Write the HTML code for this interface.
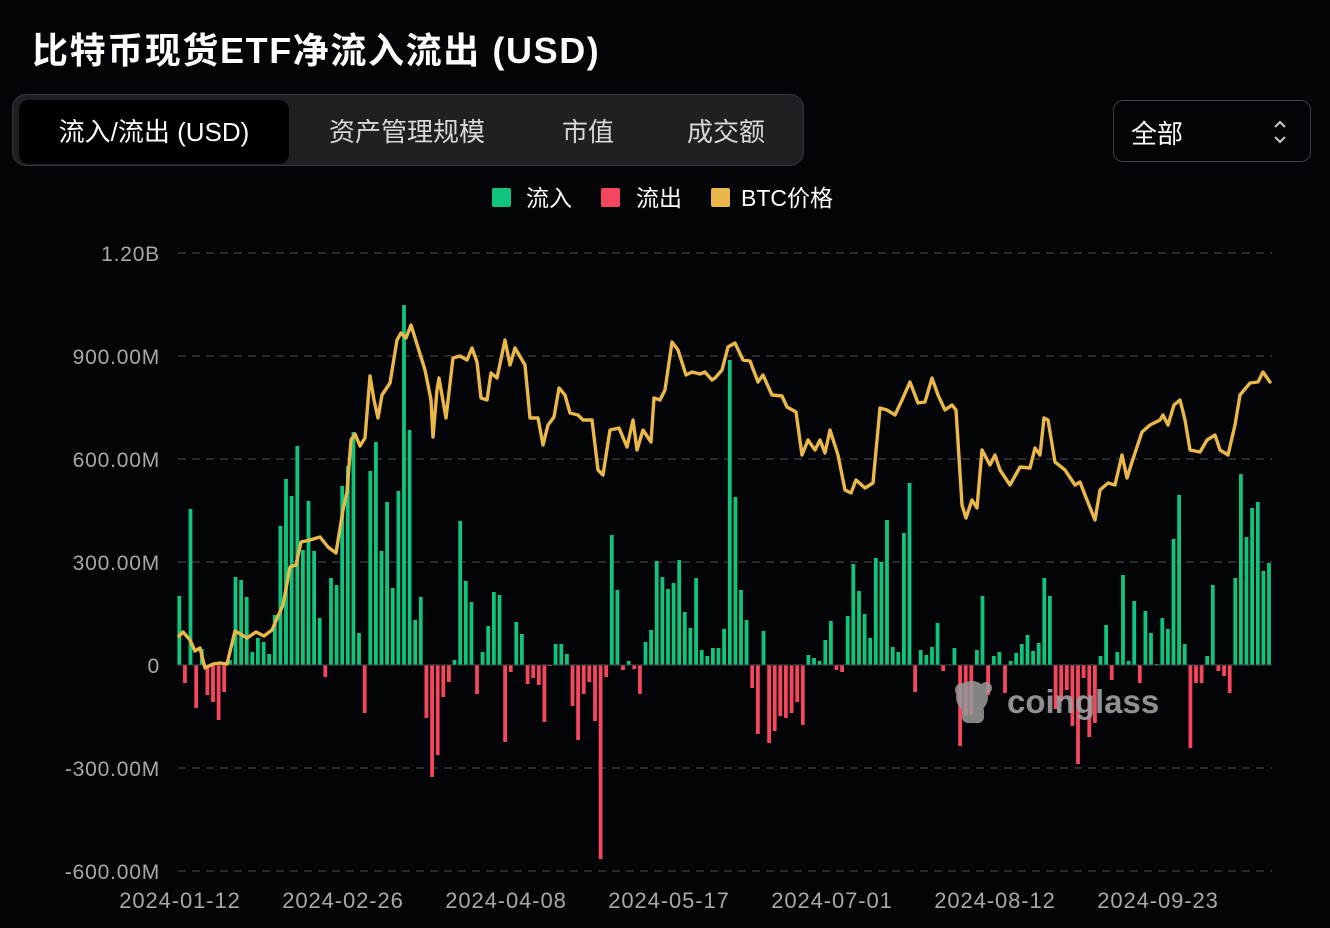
<!DOCTYPE html>
<html><head><meta charset="utf-8"><style>
body{margin:0;width:1330px;height:928px;background:#030408;overflow:hidden;font-family:"Liberation Sans","Noto Sans CJK SC",sans-serif;color:#fff;position:relative}
.title{position:absolute;left:32px;top:22px;font-size:36px;font-weight:bold;letter-spacing:1.6px}
.tabs{position:absolute;left:12px;top:94px;width:792px;height:72px;background:#1f2024;border:1px solid #34363b;border-radius:14px;box-sizing:border-box}
.tab{position:absolute;top:5px;height:64px;line-height:64px;font-size:26px;color:#d8d8d8;text-align:center}
.act{background:#000;border-radius:10px;color:#fff}
.dd{position:absolute;left:1113px;top:100px;width:198px;height:62px;border:1px solid #3e4045;border-radius:10px;box-sizing:border-box}
.leg{position:absolute;top:179px;font-size:23px}
.sq{position:absolute;top:188px;width:19px;height:19px;border-radius:2px}
</style></head><body>
<div class="title">比特币现货ETF净流入流出 (USD)</div>
<div class="tabs">
<div class="tab act" style="left:6px;width:270px">流入/流出 (USD)</div>
<div class="tab" style="left:294px;width:200px">资产管理规模</div>
<div class="tab" style="left:530px;width:90px">市值</div>
<div class="tab" style="left:650px;width:126px">成交额</div>
</div>
<div class="dd"><span style="position:absolute;left:17px;top:13px;font-size:26px">全部</span>
<svg style="position:absolute;left:158px;top:17px" width="16" height="28"><path d="M3 9 L8 4 L13 9 M3 19 L8 24 L13 19" stroke="#ccc" stroke-width="2" fill="none"/></svg></div>
<div class="sq" style="left:492px;background:#10c47e"></div><div class="leg" style="left:526px">流入</div>
<div class="sq" style="left:601px;background:#f6465d"></div><div class="leg" style="left:636px">流出</div>
<div class="sq" style="left:711px;background:#eab84a"></div><div class="leg" style="left:741px">BTC价格</div>
<svg id="c" style="position:absolute;left:0;top:0" width="1330" height="928"></svg>
<script>
var s=document.getElementById('c'),h='';
var ys=[[253,'1.20B'],[356,'900.00M'],[459,'600.00M'],[562,'300.00M'],[665,'0'],[768,'-300.00M'],[871,'-600.00M']];
ys.forEach(function(a){h+='<line x1="178" x2="1272" y1="'+a[0]+'" y2="'+a[0]+'" stroke="#34363a" stroke-width="1.5" stroke-dasharray="8,6"/>';
h+='<text x="160" y="'+(a[0]+8)+'" text-anchor="end" font-size="21" letter-spacing="0.8" fill="#a8a8a8" font-family="Liberation Sans">'+a[1]+'</text>';});
['2024-01-12','2024-02-26','2024-04-08','2024-05-17','2024-07-01','2024-08-12','2024-09-23'].forEach(function(t,i){
h+='<text x="'+(180+i*163)+'" y="908" text-anchor="middle" font-size="22" letter-spacing="0.9" fill="#a8a8a8" font-family="Liberation Sans">'+t+'</text>';});
var v=[69,-18,156,-43,16,-30,-37,-55,-27,5,88,85,68,13,27,23,11,50,139,186,169,219,115,164,114,47,-12,87,80,179,199,233,32,-48,194,223,114,163,77,174,360,235,45,68,-53,-112,-90,-32,-17,
5,144,84,63,-29,13,39,73,70,-77,-7,43,31,-19,-13,-20,-57,-1,21,21,11,-41,-75,-29,-17,-56,-194,-12,130,75,-5,4,-4,-29,23,35,104,88,76,82,105,53,37,87,15,9,17,17,
36,305,168,75,45,-23,-69,34,-78,-66,-51,-53,-48,-37,-60,10,7,4,25,44,-5,-7,49,101,74,51,27,107,103,145,18,13,132,182,-27,15,10,18,42,-6,0,17,-81,-50,-50,15,69,-30,
9,13,-28,4,12,21,30,14,22,87,69,-44,-36,-25,-61,-99,-13,-72,-58,9,40,-15,13,90,4,64,-18,54,32,1,47,36,126,170,21,-83,-18,-18,9,80,-6,-11,-28,87,191,128,157,163,94,102];
v.forEach(function(d,i){var x=179.3+i*5.617-1.9;if(d>=0)h+='<rect x="'+x.toFixed(1)+'" y="'+(665-d)+'" width="3.8" height="'+d+'" fill="#10c47e"/>';
else h+='<rect x="'+x.toFixed(1)+'" y="665" width="3.8" height="'+(-d)+'" fill="#f6465d"/>';});
h+='<line x1="178" x2="1272" y1="665" y2="665" stroke="#3a3c40" stroke-width="1"/>';
h+='<g fill="#9a9a9a" opacity="0.85"><circle cx="972" cy="697" r="16"/><circle cx="962" cy="690" r="7"/><circle cx="986" cy="688" r="6"/><rect x="962" y="705" width="22" height="18" rx="6"/></g>';
h+='<text x="1007" y="713" font-size="33" font-weight="bold" fill="#a0a0a0" opacity="0.9" font-family="Liberation Sans">coinglass</text>';
var p="179,636 183,632 190,640 195,651 200,648 205,668 213,664 220,663 227,664 235,631 247,638 256,632 264,636 272,630 278,616 283,605 290,567 296,565 301,542 310,540 320,537 328,547 336,553 343,510 347,492 351,440 355,434 360,446 365,438 370,376 374,400 378,418 382,395 390,383 397,340 401,333 406,338 411,325 425,370 431,400 433,437 437,390 439,378 446,418 453,358 460,356 467,360 472,348 477,362 481,398 487,400 491,373 497,378 505,340 510,365 515,348 525,365 530,418 538,418 543,445 548,425 554,417 559,388 565,395 570,413 578,415 583,420 592,420 598,470 603,475 610,430 619,428 627,447 633,420 637,450 643,430 651,442 654,398 660,400 665,390 672,342 678,350 686,375 692,372 700,374 705,372 712,380 715,378 722,370 728,347 735,343 743,360 750,361 758,382 763,375 772,395 782,396 787,407 796,412 802,455 808,440 815,450 820,440 825,453 830,430 838,455 845,490 851,493 856,480 865,488 873,483 880,408 887,410 895,415 902,400 910,382 918,403 925,402 932,378 938,395 945,410 952,405 956,410 962,505 966,518 972,500 977,508 982,450 990,465 995,455 1000,470 1010,485 1020,467 1030,468 1035,448 1040,455 1044,418 1048,420 1055,462 1065,470 1075,485 1080,482 1085,495 1095,520 1100,490 1108,483 1115,485 1122,455 1127,478 1132,462 1142,432 1150,425 1160,420 1163,415 1168,425 1174,405 1180,400 1185,420 1190,450 1200,452 1207,440 1215,435 1220,450 1228,455 1235,425 1240,395 1250,383 1258,382 1263,372 1270,382";
h+='<polyline points="'+p+'" fill="none" stroke="#eab84a" stroke-width="3.4" stroke-linejoin="round" stroke-linecap="round"/>';
s.innerHTML=h;
</script>
</body></html>
